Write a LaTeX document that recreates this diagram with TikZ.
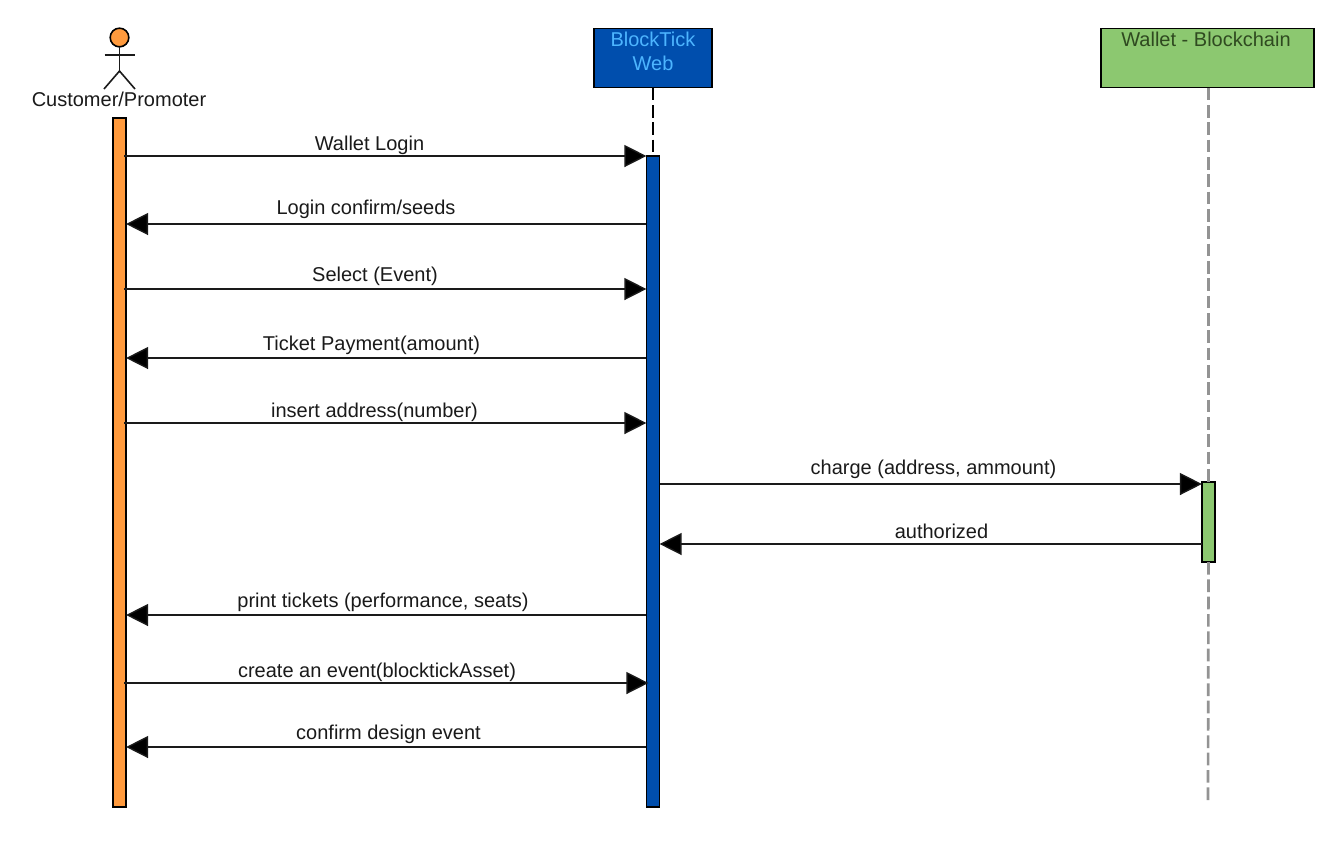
\documentclass[tikz,border=0pt]{standalone}
\usepackage{fontspec}
\setmainfont{Liberation Sans}
\usetikzlibrary{arrows.meta}
\definecolor{orfill}{HTML}{FF9A3D}
\definecolor{bluefill}{HTML}{004EAD}
\definecolor{greenfill}{HTML}{8CC870}
\definecolor{bluetext}{HTML}{4DB5FF}
\definecolor{greentext}{HTML}{2F4A20}
\definecolor{inkc}{HTML}{1A1A1A}
\tikzset{
  x=0.75pt,y=-0.75pt,
  headbox/.style={draw=black,line width=1.05pt,minimum width=#1*0.75pt,minimum height=44.6pt,inner sep=0pt,outer sep=0pt},
  activation/.style={draw=black,line width=1.05pt,minimum width=9.9pt,inner sep=0pt,outer sep=0pt},
  msg/.style={draw=inkc,line width=1.05pt,-{Triangle[length=16.5pt,width=16.5pt,fill=black]}},
  label/.style={inner sep=0pt,outer sep=0pt,text=inkc,font=\fontsize{15}{17}\selectfont,anchor=center},
  lifeblack/.style={draw=black,line width=1.3pt,dash pattern=on 9.5pt off 3.5pt},
  lifegrey/.style={draw=gray!85,line width=2pt,dash pattern=on 9.5pt off 3.5pt},
  stick/.style={draw=inkc,line width=1.2pt}
}
\begin{document}
\begin{tikzpicture}
\useasboundingbox (0,0) rectangle (1332,840);
% header boxes
\node[headbox=118,fill=bluefill] (webhead) at (653,58) {};
\node[headbox=213,fill=greenfill] (wallethead) at (1207.5,58) {};
\node[inner sep=0pt,text=bluetext,font=\fontsize{15}{17}\selectfont] (webtext1) at (653,39) {BlockTick};
\node[inner sep=0pt,text=bluetext,font=\fontsize{15}{17}\selectfont] (webtext2) at (653,63) {Web};
\node[inner sep=0pt,text=greentext,font=\fontsize{15}{17}\selectfont] (wallettext) at (1206,39) {Wallet - Blockchain};
% actor
\node[circle,draw=black,line width=1.2pt,fill=orfill,minimum size=14pt,inner sep=0pt,outer sep=0pt] (acthead) at (119.5,37.5) {};
\coordinate (hip) at (119.5,71);
\coordinate (armL) at (104.5,55);
\coordinate (armR) at (134.5,55);
\coordinate (footL) at (104,89);
\coordinate (footR) at (135,89);
\draw[stick] (acthead.south) -- (hip);
\draw[stick] (armL) -- (armR);
\draw[stick] (footL) -- (hip) -- (footR);
\node[label] (custlabel) at (119,99.5) {Customer/Promoter};
% activation bars
\node[activation,fill=orfill,minimum height=516.75pt] (custbar) at (119.5,462.5) {};
\node[activation,fill=bluefill,minimum height=488.25pt] (webbar) at (653,481.5) {};
\node[activation,fill=greenfill,minimum height=60pt] (walletbar) at (1208.5,522) {};
\coordinate (walletend) at (1208,803);
% lifelines
\draw[lifeblack] (webhead.south) -- (webbar.north);
\draw[lifegrey] (wallethead.south -| walletbar.north) -- (walletbar.north);
\draw[lifegrey] (walletbar.south) -- (walletend);
% messages
\draw[msg,shorten <=-1.5pt] (custbar.east |- 0,156) -- (webbar.west |- 0,156);
\draw[msg] (webbar.west |- 0,224) -- (custbar.east |- 0,224);
\draw[msg,shorten <=-1.5pt] (custbar.east |- 0,289) -- (webbar.west |- 0,289);
\draw[msg] (webbar.west |- 0,358) -- (custbar.east |- 0,358);
\draw[msg,shorten <=-1.5pt] (custbar.east |- 0,423) -- (webbar.west |- 0,423);
\draw[msg] (webbar.east |- 0,484) -- (walletbar.west |- 0,484);
\draw[msg] (walletbar.west |- 0,544) -- (webbar.east |- 0,544);
\draw[msg] (webbar.west |- 0,615) -- (custbar.east |- 0,615);
\draw[msg,shorten <=-1.5pt,shorten >=-1.5pt] (custbar.east |- 0,683) -- (webbar.west |- 0,683);
\draw[msg] (webbar.west |- 0,747) -- (custbar.east |- 0,747);
% labels
\node[label] (m1) at (369.5,145.5) {Wallet Login};
\node[label] (m2) at (366,209.5) {Login confirm/seeds};
\node[label] (m3) at (375,276.5) {Select (Event)};
\node[label] (m4) at (371.5,345.5) {Ticket Payment(amount)};
\node[label] (m5) at (374.5,412.5) {insert address(number)};
\node[label] (m6) at (933.5,469.5) {charge (address, ammount)};
\node[label] (m7) at (941.5,531) {authorized};
\node[label] (m8) at (383,602.5) {print tickets (performance, seats)};
\node[label] (m9) at (377,672.5) {create an event(blocktickAsset)};
\node[label] (m10) at (388.5,734.5) {confirm design event};
\end{tikzpicture}
\end{document}
